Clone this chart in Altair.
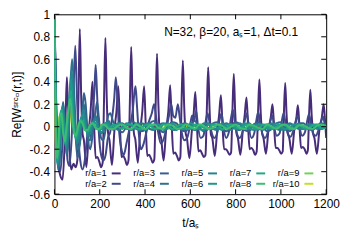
import altair as alt
import pandas as pd

FONT = "Liberation Sans"

series_names = [f"r/a={i}" for i in range(1, 11)]
colors = ["#472c7a", "#3f4889", "#355f8d", "#2d718e", "#26838f",
          "#1f958b", "#22a785", "#3dbc74", "#75d054", "#c2df23"]
draw_order = [8, 9, 0, 1, 2, 3, 4, 5, 6, 7]

x_ticks = [0, 200, 400, 600, 800, 1000, 1200]
y_ticks = [-0.6, -0.4, -0.2, 0, 0.2, 0.4, 0.6, 0.8, 1.0]

s1 = [(0,1.0),(4,0.55),(9,0.05),(16,-0.3),(24,-0.42),(36,-0.47),(44,-0.2),(50,0.15),(55,0.44),(60,0.15),(66,-0.2),(74,-0.38),(84,-0.33),(94,-0.36),(101,-0.3),(106,0.25),
(112,0.87),(118,0.28),(124,-0.06),(130,-0.12),(141,-0.36),(152,-0.03),(160,0.15),(168,0.40),(175,0.02),(182,-0.28),(190,-0.27),(198,-0.31),(206,-0.36),(213,-0.32),(219,0.24),
(225,0.79),(231,0.25),(237,-0.06),(243,-0.12),(254,-0.34),(265,-0.03),(274,0.14),(282,0.36),(289,0.02),(296,-0.27),(304,-0.26),(312,-0.29),(320,-0.34),(327,-0.3),(333,0.21),
(339,0.71),(345,0.22),(351,-0.06),(357,-0.11),(368,-0.32),(379,-0.03),(388,0.14),(396,0.36),(403,0.02),(410,-0.26),(418,-0.25),(426,-0.28),(434,-0.32),(441,-0.29),(447,0.2),
(453,0.65),(459,0.2),(465,-0.05),(471,-0.1),(482,-0.3),(493,-0.03),(503,0.14),(511,0.37),(518,0.02),(525,-0.24),(533,-0.23),(541,-0.26),(549,-0.3),(556,-0.27),(561,0.18),
(567,0.59),(573,0.18),(579,-0.05),(585,-0.1),(596,-0.28),(607,-0.03),(615,0.12),(622,0.31),(629,0.02),(636,-0.22),(644,-0.21),(652,-0.24),(660,-0.27),(667,-0.25),(673,0.16),
(679,0.53),(685,0.16),(691,-0.07),(697,-0.1),(708,-0.26),(719,-0.03),(727,0.1),(735,0.28),(742,0.02),(749,-0.2),(757,-0.2),(765,-0.22),(773,-0.25),(780,-0.23),(786,0.14),
(792,0.47),(798,0.14),(804,-0.06),(810,-0.1),(821,-0.25),(832,-0.03),(840,0.1),(848,0.26),(855,0.01),(862,-0.2),(870,-0.19),(878,-0.21),(886,-0.25),(893,-0.22),(899,0.12),
(905,0.42),(911,0.12),(917,-0.06),(923,-0.1),(934,-0.24),(945,-0.03),(955,0.08),(963,0.20),(970,0.0),(977,-0.19),(985,-0.19),(993,-0.21),(1001,-0.24),(1008,-0.22),(1013,0.1),
(1019,0.39),(1025,0.11),(1031,-0.06),(1037,-0.1),(1048,-0.24),(1059,-0.03),(1068,0.07),(1075,0.19),(1082,0.0),(1089,-0.19),(1097,-0.18),(1105,-0.2),(1113,-0.24),(1119,-0.21),(1124,0.08),
(1130,0.33),(1136,0.1),(1142,-0.06),(1148,-0.1),(1159,-0.24),(1170,-0.03),(1180,0.07),(1189,0.20),(1196,0.02),(1200,-0.1)]

s2 = [(0,1.0),(5,0.5),(10,0.0),(18,-0.35),(26,-0.4),(34,-0.2),(42,0.1),(50,0.0),(58,-0.3),(66,-0.35),(76,-0.1),(84,0.3),(92,0.72),(99,0.3),(106,-0.1),(114,-0.3),(124,-0.38),(134,-0.3),(144,-0.1),(152,0.0),(160,-0.1),(168,0.1),(176,0.3),(182,0.55),(188,0.3),(196,-0.05),(206,-0.25),(216,-0.3),(226,-0.25),(236,-0.1),(246,-0.05),(256,0.1),(264,0.25),(271,0.44),(278,0.25),(286,-0.05),(296,-0.2),(306,-0.25),(318,-0.15),(328,-0.05),(338,0.05),(346,0.15),(352,0.28),(358,0.36),(364,0.2),(372,-0.05),(382,-0.2),(394,-0.15),(406,-0.05),(418,0.05),(430,0.12),(440,0.2),(448,0.1),(458,-0.05),(470,-0.15),(484,-0.1),(496,0.0),(506,0.1),(516,0.2),(524,0.1),(534,0.08),(545,0.2),(552,0.1),(562,-0.05),(574,-0.12),(586,-0.1),(598,0.0),(608,0.1),(616,0.05),(626,0.14),(634,0.0),(646,-0.1),(658,-0.08),(668,0.05),(676,0.12),(684,0.05),(694,-0.05),(706,-0.1),(718,-0.06),(728,0.05),(738,0.12),(746,0.0),(758,-0.1),(770,-0.05),(780,0.08),(788,0.15),(796,0.05),(806,-0.06),(818,-0.1),(830,-0.05),(840,0.05),(850,0.12),(858,0.0),(870,-0.1),(882,-0.06),(892,0.06),(900,0.13),(908,0.04),(918,-0.06),(930,-0.1),(942,-0.05),(952,0.04),(962,0.1),(970,0.0),(982,-0.08),(994,-0.06),(1004,0.05),(1012,0.12),(1020,0.04),(1030,-0.06),(1042,-0.09),(1054,-0.04),(1064,0.04),(1074,0.1),(1082,0.0),(1094,-0.08),(1106,-0.05),(1116,0.05),(1124,0.11),(1132,0.04),(1142,-0.06),(1154,-0.08),(1166,-0.03),(1176,0.04),(1186,0.09),(1194,0.02),(1200,-0.02)]

head3 = [(0,1.0),(4,0.5),(9,0.0),(15,-0.35),(22,-0.32),(30,0.0),(38,0.22),(46,0.05),(54,-0.25),(62,-0.1),(70,0.3),(78,0.45),(86,0.25),(94,-0.1),(102,-0.28),(112,-0.15),(122,0.08),(130,0.3),(138,0.2),(148,-0.1),(158,-0.2),(170,-0.05),(180,0.1),(188,0.22),(196,0.08),(206,-0.1),(216,-0.12),(228,0.0),(238,0.1),(246,0.12)]
head4 = [(0,1.0),(4,0.5),(9,0.0),(15,-0.38),(22,-0.3),(30,0.05),(38,0.2),(46,0.0),(54,-0.25),(62,-0.05),(70,0.35),(78,0.6),(86,0.35),(94,0.0),(102,-0.2),(112,-0.15),(122,0.05),(130,0.2),(138,0.1),(148,-0.1),(158,-0.12),(170,0.0),(180,0.1),(190,0.05),(202,-0.06),(214,-0.05),(226,0.03),(240,0.05),(250,0.0)]
head5 = [(0,1.0),(4,0.45),(9,-0.05),(14,-0.35),(21,-0.25),(28,0.05),(36,0.18),(44,0.0),(52,-0.2),(60,-0.05),(68,0.3),(76,0.5),(84,0.25),(92,-0.05),(100,-0.15),(110,-0.08),(120,0.08),(128,0.15),(138,0.02),(148,-0.08),(160,-0.05),(172,0.05),(184,0.06),(196,-0.02),(210,-0.05),(224,0.02),(238,0.04),(250,-0.01)]
head6 = [(0,1.0),(4,0.4),(8,-0.1),(13,-0.33),(20,-0.2),(27,0.08),(34,0.15),(42,-0.02),(50,-0.18),(58,0.0),(66,0.25),(74,0.42),(82,0.18),(90,-0.05),(98,-0.12),(108,-0.04),(118,0.08),(126,0.1),(136,0.0),(146,-0.06),(158,-0.02),(170,0.04),(182,0.03),(196,-0.03),(210,-0.02),(224,0.03),(238,0.02),(250,-0.02)]
head7 = [(0,1.0),(3,0.45),(7,-0.05),(12,-0.3),(18,-0.22),(25,0.1),(32,0.15),(40,-0.05),(48,-0.15),(56,0.0),(64,0.2),(72,0.32),(80,0.12),(88,-0.05),(96,-0.1),(106,0.0),(116,0.06),(126,0.05),(136,-0.03),(148,-0.04),(160,0.02),(172,0.03),(186,-0.02),(200,-0.02),(214,0.02),(228,0.02),(242,-0.02)]
head8 = [(0,1.0),(3,0.4),(7,-0.1),(11,-0.28),(17,-0.18),(24,0.1),(31,0.12),(38,-0.05),(46,-0.13),(54,0.02),(62,0.16),(70,0.25),(78,0.08),(86,-0.05),(94,-0.08),(104,0.0),(114,0.05),(124,0.03),(134,-0.03),(146,-0.03),(158,0.02),(170,0.03),(184,-0.02),(198,-0.02),(212,0.02),(226,0.01),(240,-0.02)]
head9 = [(0,1.0),(3,0.38),(6,-0.1),(10,-0.27),(16,-0.15),(23,0.1),(30,0.1),(37,-0.05),(45,-0.12),(53,0.02),(61,0.13),(69,0.2),(77,0.05),(85,-0.05),(93,-0.06),(103,0.01),(113,0.04),(123,0.02),(133,-0.03),(145,-0.02),(157,0.02),(169,0.02),(183,-0.02),(197,-0.01),(211,0.02),(225,0.01),(239,-0.02)]
head10 = [(0,1.0),(3,0.35),(6,-0.12),(10,-0.25),(15,-0.12),(22,0.1),(29,0.08),(36,-0.05),(44,-0.1),(52,0.03),(60,0.1),(68,0.16),(76,0.03),(84,-0.05),(92,-0.05),(102,0.02),(112,0.04),(122,0.01),(132,-0.03),(144,-0.02),(156,0.02),(168,0.02),(182,-0.02),(196,-0.01),(210,0.02),(224,0.01),(238,-0.02),(250,0.0)]

tail_t = list(range(260, 1201, 20))
tail3 = [0.04,-0.02,-0.05,0.01,0.05,0.02,-0.04,-0.03,0.03,0.05,-0.01,-0.05,0.0,0.04,0.03,-0.03,-0.04,0.02,0.05,-0.01,-0.04,-0.02,0.03,0.04,-0.02,-0.04,0.01,0.04,0.02,-0.03,-0.04,0.02,0.04,0.0,-0.04,-0.02,0.03,0.04,-0.01,-0.04,0.0,0.03,0.03,-0.02,-0.03,0.01,0.03,0.0]
tail4 = [-0.03,0.02,0.03,-0.01,-0.03,0.0,0.03,0.02,-0.02,-0.03,0.01,0.03,0.01,-0.03,-0.02,0.02,0.03,-0.01,-0.03,0.0,0.02,0.03,-0.02,-0.03,0.01,0.03,0.0,-0.02,-0.03,0.02,0.03,-0.01,-0.03,0.01,0.02,0.02,-0.02,-0.03,0.01,0.03,0.0,-0.02,-0.02,0.02,0.02,-0.01,-0.02,0.01]
tail5 = [0.02,-0.03,0.0,0.03,0.01,-0.02,-0.03,0.02,0.03,-0.01,-0.02,0.02,0.03,-0.02,-0.03,0.01,0.02,0.01,-0.03,-0.01,0.03,0.02,-0.02,-0.02,0.03,0.0,-0.03,0.01,0.03,-0.01,-0.02,0.02,0.02,-0.03,0.0,0.03,0.01,-0.02,-0.03,0.02,0.02,-0.01,-0.02,0.02,0.01,-0.02,0.0,0.02]
tail6 = [-0.01,0.03,0.02,-0.02,-0.02,0.03,0.01,-0.03,0.0,0.02,0.02,-0.03,-0.01,0.03,0.0,-0.02,-0.02,0.03,0.01,-0.02,-0.03,0.02,0.02,-0.01,-0.03,0.02,0.02,-0.02,0.0,0.03,-0.01,-0.03,0.02,0.02,-0.02,-0.01,0.03,0.0,-0.02,-0.01,0.02,0.02,-0.02,-0.01,0.02,0.01,-0.02,0.0]
tail7 = [0.02,0.0,-0.02,0.02,0.02,-0.01,-0.02,0.01,0.02,-0.02,-0.01,0.02,0.01,-0.02,0.0,0.02,-0.01,-0.02,0.02,0.01,-0.01,-0.02,0.02,0.02,-0.02,-0.01,0.02,0.0,-0.02,0.01,0.02,-0.01,-0.02,0.02,0.01,-0.02,0.0,0.02,0.01,-0.02,-0.01,0.02,0.0,-0.02,0.01,0.02,-0.01,-0.01]
tail8 = [-0.02,0.01,0.02,-0.01,-0.02,0.02,0.0,-0.02,0.01,0.02,-0.01,-0.02,0.02,0.01,-0.02,-0.01,0.02,0.0,-0.02,0.02,0.01,-0.02,-0.01,0.02,0.01,-0.02,0.0,0.02,-0.01,-0.02,0.02,0.01,-0.01,-0.02,0.02,0.0,-0.02,0.01,0.02,-0.01,-0.02,0.01,0.01,-0.01,-0.02,0.01,0.02,0.0]
tail9 = [0.01,-0.02,0.0,0.02,-0.01,-0.01,0.02,0.01,-0.02,0.0,0.02,-0.01,-0.02,0.01,0.02,-0.01,-0.01,0.02,0.0,-0.02,0.01,0.02,-0.01,-0.02,0.01,0.01,-0.02,0.0,0.02,-0.01,-0.01,0.02,0.0,-0.02,0.01,0.02,-0.01,-0.01,0.02,0.0,-0.02,0.01,0.01,-0.02,0.0,0.02,-0.01,0.0]
tail10 = [-0.01,0.02,0.01,-0.02,0.0,0.02,-0.01,-0.02,0.01,0.02,-0.01,-0.01,0.02,0.0,-0.02,0.01,0.01,-0.02,-0.01,0.02,0.01,-0.01,-0.02,0.01,0.02,-0.01,-0.01,0.02,0.0,-0.02,0.01,0.01,-0.02,0.0,0.02,-0.01,-0.01,0.02,0.01,-0.02,0.0,0.01,-0.01,-0.01,0.02,0.0,-0.01,0.01]

heads = [head3, head4, head5, head6, head7, head8, head9, head10]
tails = [tail3, tail4, tail5, tail6, tail7, tail8, tail9, tail10]

all_series = [s1, s2] + [h + list(zip(tail_t, tl)) for h, tl in zip(heads, tails)]

W, H = 275, 182
xs = alt.Scale(domain=[0, 1200], nice=False, zero=False)
ys = alt.Scale(domain=[-0.6, 1.0], nice=False, zero=False)

label_expr = "datum.value < 0 ? '-' + format(-datum.value, '~g') : format(datum.value, '~g')"
x_axis = alt.Axis(values=x_ticks, title="t/aₛ", ticks=False, domain=False, grid=False,
                  labelPadding=5, titlePadding=8, labelFlush=False, labelExpr=label_expr)
y_axis = alt.Axis(values=y_ticks, title="Re[Wˢʳᶜ▫(r,t)]", ticks=False, domain=False, grid=False,
                  labelPadding=5, titlePadding=6, labelExpr=label_expr)

X = alt.X("t:Q", scale=xs, axis=x_axis)
Y = alt.Y("v:Q", scale=ys, axis=y_axis)

layers = []
for k in draw_order:
    df = pd.DataFrame(all_series[k], columns=["t", "v"])
    layers.append(
        alt.Chart(df).mark_line(color=colors[k], strokeWidth=2, interpolate="monotone", clip=True)
        .encode(x=X, y=Y)
    )

xt = pd.DataFrame({"t": x_ticks})
yt = pd.DataFrame({"v": y_ticks})
TL = 5
layers.append(alt.Chart(xt).mark_rule(color="black", strokeWidth=1).encode(x=X, y=alt.value(H), y2=alt.value(H - TL)))
layers.append(alt.Chart(xt).mark_rule(color="black", strokeWidth=1).encode(x=X, y=alt.value(0), y2=alt.value(TL)))
layers.append(alt.Chart(yt).mark_rule(color="black", strokeWidth=1).encode(y=Y, x=alt.value(0), x2=alt.value(TL)))
layers.append(alt.Chart(yt).mark_rule(color="black", strokeWidth=1).encode(y=Y, x=alt.value(W), x2=alt.value(W - TL)))

# key: label then line sample, 5 columns x 2 rows (column-major)
for i, (name, col) in enumerate(zip(series_names, colors)):
    c, r = i // 2, i % 2
    lx = 53 + 48.75 * c
    ly = 161 + 10.5 * r
    d = pd.DataFrame({"s": [name]})
    layers.append(alt.Chart(d).mark_text(align="right", baseline="middle", fontSize=9.5, font=FONT, color="black")
                  .encode(text="s:N", x=alt.value(lx), y=alt.value(ly)))
    layers.append(alt.Chart(d).mark_rule(color=col, strokeWidth=2)
                  .encode(x=alt.value(lx + 5), x2=alt.value(lx + 14), y=alt.value(ly)))

annot = pd.DataFrame({"s": ["N=32, β=20, aₛ=1, Δt=0.1"]})
layers.append(alt.Chart(annot).mark_text(align="left", baseline="alphabetic", fontSize=12, font=FONT, color="black")
              .encode(text="s:N", x=alt.value(111), y=alt.value(22)))

chart = alt.layer(*layers).properties(
    width=W, height=H,
    autosize=alt.AutoSizeParams(type="none"),
    padding={"left": 47, "top": 5, "right": 16, "bottom": 45},
).configure_view(stroke="black", strokeWidth=1).configure_axis(
    labelFont=FONT, titleFont=FONT, labelFontSize=12, titleFontSize=12,
    labelColor="black", titleColor="black", titleFontWeight="normal"
)

chart.save("out.html", embed_options={"renderer": "svg", "actions": False})
